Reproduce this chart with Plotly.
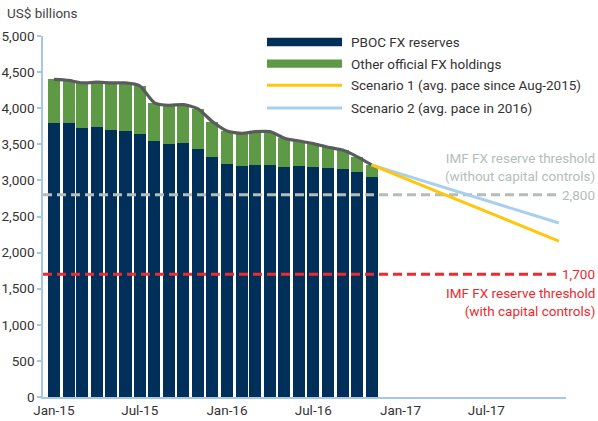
import plotly.graph_objects as go

# ---------------- data ----------------
months = ["2015-01-01", "2015-02-01", "2015-03-01", "2015-04-01", "2015-05-01", "2015-06-01",
          "2015-07-01", "2015-08-01", "2015-09-01", "2015-10-01", "2015-11-01", "2015-12-01",
          "2016-01-01", "2016-02-01", "2016-03-01", "2016-04-01", "2016-05-01", "2016-06-01",
          "2016-07-01", "2016-08-01", "2016-09-01", "2016-10-01", "2016-11-01"]
pboc = [3800, 3790, 3720, 3740, 3700, 3685, 3645, 3550, 3505, 3520, 3430, 3325,
        3225, 3200, 3210, 3215, 3190, 3200, 3190, 3175, 3160, 3120, 3050]
total = [4400, 4385, 4350, 4360, 4350, 4350, 4310, 4075, 4040, 4050, 3990, 3815,
         3685, 3650, 3675, 3675, 3585, 3545, 3510, 3460, 3420, 3330, 3215]
other = [t - p for t, p in zip(total, pboc)]

scen_dates = ["2016-11-01", "2017-12-01"]
scen1 = [3215, 2160]
scen2 = [3215, 2410]

thr_dates = ["2014-12-09", "2017-12-01"]
thr_high = [2800, 2800]
thr_low = [1700, 1700]

tick_dates = ["2015-01-01", "2015-07-01", "2016-01-01", "2016-07-01", "2017-01-01", "2017-07-01"]
tick_text = ["Jan-15", "Jul-15", "Jan-16", "Jul-16", "Jan-17", "Jul-17"]
y_ticks = [0, 500, 1000, 1500, 2000, 2500, 3000, 3500, 4000, 4500, 5000]

legend_names = ["PBOC FX reserves", "Other official FX holdings",
                "Scenario 1 (avg. pace since Aug-2015)", "Scenario 2 (avg. pace in 2016)"]

# ---------------- style ----------------
NAVY = "#00305a"
GREEN = "#5e9945"
GRAYLINE = "#5a5b5d"
YELLOW = "#ffc60b"
LBLUE = "#a8d0ee"
RED = "#ee2a2f"
THRGRAY = "#b5bdb9"
TXT = "#333333"
AXIS = "#a7c7e7"
FONT = "Roboto, sans-serif"
FS = 13.5

W, H = 598, 421
L, R, T, B = 43, 566, 35.7, 396.7


def px(x):
    return (x - L) / (R - L)


def py(y):
    return (B - y) / (B - T)


bar_w = 25.5 * 86400000

fig = go.Figure()
fig.add_trace(go.Bar(x=months, y=pboc, marker=dict(color=NAVY, line_width=0), width=bar_w,
                     name=legend_names[0], showlegend=False))
fig.add_trace(go.Bar(x=months, y=other, marker=dict(color=GREEN, line_width=0), width=bar_w,
                     name=legend_names[1], showlegend=False))
fig.add_trace(go.Scatter(x=thr_dates, y=thr_high, mode="lines",
                         line=dict(color=THRGRAY, width=3, dash="9px,5px"), showlegend=False))
fig.add_trace(go.Scatter(x=thr_dates, y=thr_low, mode="lines",
                         line=dict(color=RED, width=3, dash="9px,5px"), showlegend=False))
fig.add_trace(go.Scatter(x=months, y=total, mode="lines",
                         line=dict(color=GRAYLINE, width=3.2, shape="spline", smoothing=0.6),
                         showlegend=False))
fig.add_trace(go.Scatter(x=scen_dates, y=scen2, mode="lines", line=dict(color=LBLUE, width=3),
                         name=legend_names[3], showlegend=False))
fig.add_trace(go.Scatter(x=scen_dates, y=scen1, mode="lines", line=dict(color=YELLOW, width=3),
                         name=legend_names[2], showlegend=False))

# ---------- manual legend ----------
shapes = []
leg_y = [41.7, 63.3, 85.0, 107.7]
sx0, sx1 = 267, 342
shapes.append(dict(type="rect", xref="paper", yref="paper", x0=px(sx0), x1=px(sx1),
                   y0=py(leg_y[0] + 4.2), y1=py(leg_y[0] - 4.2), fillcolor=NAVY, line_width=0))
shapes.append(dict(type="rect", xref="paper", yref="paper", x0=px(sx0), x1=px(sx1),
                   y0=py(leg_y[1] + 4.2), y1=py(leg_y[1] - 4.2), fillcolor=GREEN, line_width=0))
shapes.append(dict(type="line", xref="paper", yref="paper", x0=px(sx0), x1=px(sx1),
                   y0=py(leg_y[2]), y1=py(leg_y[2]), line=dict(color=YELLOW, width=3)))
shapes.append(dict(type="line", xref="paper", yref="paper", x0=px(sx0), x1=px(sx1),
                   y0=py(leg_y[3]), y1=py(leg_y[3]), line=dict(color=LBLUE, width=3)))

annotations = []
for name, yy in zip(legend_names, leg_y):
    annotations.append(dict(text=name, xref="paper", yref="paper", x=px(349), y=py(yy),
                            xanchor="left", yanchor="middle", showarrow=False,
                            font=dict(size=FS, color=TXT, family=FONT)))

annotations.append(dict(text="US$ billions", xref="paper", yref="paper", x=px(5), y=py(13),
                        xanchor="left", yanchor="middle", showarrow=False,
                        font=dict(size=FS, color="#444444", family=FONT)))

rx = px(597)
annotations.append(dict(text="IMF FX reserve threshold<br>(without capital controls)",
                        xref="paper", yref="paper", x=rx, y=py(167), xanchor="right",
                        yanchor="middle", align="right", showarrow=False,
                        font=dict(size=FS, color=THRGRAY, family=FONT)))
annotations.append(dict(text=f"{thr_high[0]:,}", xref="paper", yref="y", x=rx, y=thr_high[0],
                        xanchor="right", yanchor="middle", showarrow=False,
                        font=dict(size=FS, color=THRGRAY, family=FONT)))
annotations.append(dict(text=f"{thr_low[0]:,}", xref="paper", yref="y", x=rx, y=thr_low[0],
                        xanchor="right", yanchor="middle", showarrow=False,
                        font=dict(size=FS, color=RED, family=FONT)))
annotations.append(dict(text="IMF FX reserve threshold<br>(with capital controls)",
                        xref="paper", yref="paper", x=rx, y=py(301.7), xanchor="right",
                        yanchor="middle", align="right", showarrow=False,
                        font=dict(size=FS, color=RED, family=FONT)))

fig.update_layout(
    width=W, height=H,
    margin=dict(l=L, r=W - R, t=T, b=H - B, pad=0, autoexpand=False),
    barmode="stack", bargap=0,
    plot_bgcolor="white", paper_bgcolor="white",
    showlegend=False,
    font=dict(family=FONT, size=FS, color=TXT),
    shapes=shapes, annotations=annotations,
    xaxis=dict(type="date", range=["2014-12-09", "2017-12-16"], tickvals=tick_dates,
               ticktext=tick_text, showgrid=False, zeroline=False, showline=True,
               linecolor=AXIS, linewidth=1.5, ticks="", automargin=False,
               tickfont=dict(size=FS, color=TXT)),
    yaxis=dict(range=[0, 5000], tickvals=y_ticks, tickformat=",", showgrid=False,
               zeroline=False, showline=True, linecolor=AXIS, linewidth=1.5,
               ticks="outside", ticklen=4, tickcolor=AXIS, tickwidth=1.5, automargin=False,
               tickfont=dict(size=FS, color=TXT)),
)

fig.write_html("out.html", config={"displayModeBar": False},
               post_script="document.body.style.margin='0';")
